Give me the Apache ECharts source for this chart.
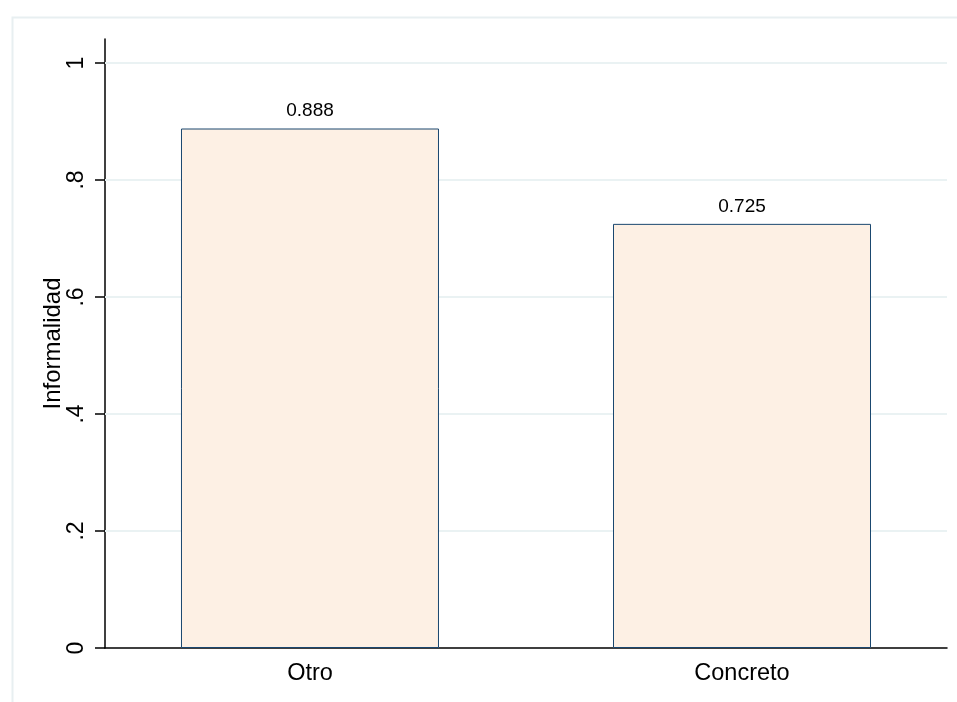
<!DOCTYPE html>
<html><head><meta charset="utf-8">
<script src="https://cdn.jsdelivr.net/npm/echarts@6/dist/echarts.min.js"></script>
<style>html,body{margin:0;padding:0;background:#fff}#c{width:957px;height:702px}</style>
</head><body><div id="c"></div>
<script>
var categories = ['Otro', 'Concreto'];
var positions = [1, 2];
var values = [0.888, 0.725];
var yTicks = [0, 0.2, 0.4, 0.6, 0.8, 1];
var yTickLabels = ['0', '.2', '.4', '.6', '.8', '1'];

var chart = echarts.init(document.getElementById('c'), null, {renderer: 'canvas'});
var font = '"Liberation Sans", Arial, sans-serif';
chart.setOption({
  animation: false,
  backgroundColor: '#ffffff',
  graphic: [{
    type: 'rect', left: 10, top: 15, shape: {width: 980, height: 720},
    style: {fill: 'none', stroke: '#e8eff1', lineWidth: 2}, z: -1
  }],
  grid: {left: 105, right: 10, top: 39, bottom: 54},
  xAxis: {
    type: 'value', min: 0.5255, max: 2.4745,
    axisLine: {show: true, onZero: false, lineStyle: {color: '#000', width: 1.5}},
    axisTick: {show: false},
    splitLine: {show: false},
    axisLabel: {
      customValues: positions,
      formatter: function (v) { var i = positions.indexOf(v); return i >= 0 ? categories[i] : ''; },
      color: '#000', fontSize: 23.5, fontFamily: font, margin: 14
    }
  },
  yAxis: {
    type: 'value', min: 0, max: 1.041,
    name: 'Informalidad', nameLocation: 'middle', nameGap: 40, nameRotate: 90,
    nameMoveOverlap: false,
    nameTextStyle: {color: '#000', fontSize: 24, fontFamily: font},
    axisLine: {show: true, lineStyle: {color: '#000', width: 1.5}},
    axisTick: {show: true, customValues: yTicks, length: 10, lineStyle: {color: '#000', width: 1.5}},
    axisLabel: {
      customValues: yTicks,
      formatter: function (v) { var i = yTicks.indexOf(v); return i >= 0 ? yTickLabels[i] : ''; },
      rotate: 90, color: '#000', fontSize: 23, fontFamily: font, margin: 17
    },
    splitLine: {show: false}
  },
  series: [{
    type: 'bar',
    data: positions.map(function (p, i) { return [p, values[i]]; }),
    barWidth: 258,
    itemStyle: {color: '#fdf0e4', borderColor: '#1a476f', borderWidth: 1},
    label: {
      show: true, position: 'top', distance: 8,
      formatter: function (p) { return p.value[1].toFixed(3); },
      color: '#000', fontSize: 19, fontFamily: font
    },
    markLine: {
      silent: true, symbol: 'none', z: 1,
      label: {show: false},
      lineStyle: {color: '#eaf2f3', type: 'solid', width: 2},
      data: yTicks.slice(1).map(function (t) { return {yAxis: t}; })
    },
    z: 3
  }]
});
</script></body></html>
